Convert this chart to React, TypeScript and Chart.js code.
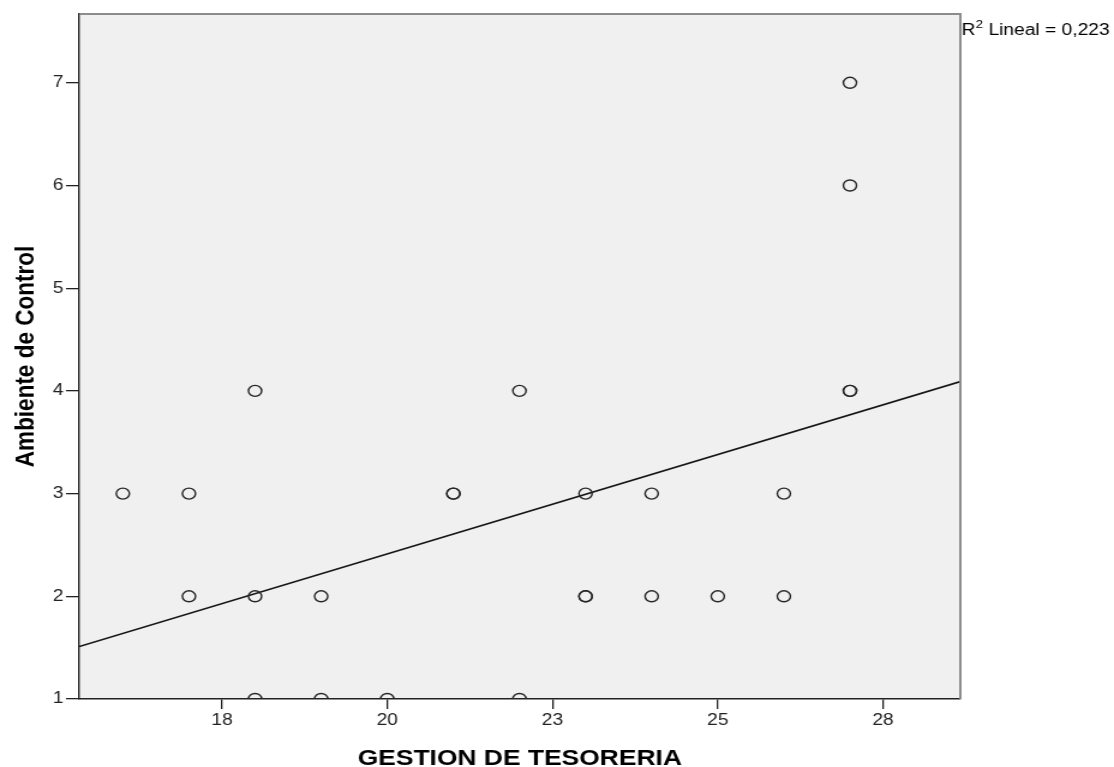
import React, { useEffect, useRef } from "react";
import { Chart, registerables } from "chart.js";

Chart.register(...registerables);

// ---- Data ----
const gestionTesoreria = [16, 17, 17, 18, 18, 18, 19, 19, 20, 21, 21, 22, 22, 23, 23, 23, 24, 24, 25, 26, 26, 27, 27, 27, 27];
const ambienteControl = [3, 3, 2, 4, 2, 1, 2, 1, 1, 3, 3, 4, 1, 3, 2, 2, 3, 2, 2, 3, 2, 7, 6, 4, 4];

const xTickValues = [17.5, 20, 22.5, 25, 27.5];
const xTickLabels = ["18", "20", "23", "25", "28"];
const yTickValues = [1, 2, 3, 4, 5, 6, 7];
const yTickLabels = ["1", "2", "3", "4", "5", "6", "7"];

const xAxisTitle = "GESTION DE TESORERIA";
const yAxisTitle = "Ambiente de Control";
const fitLabel = "Lineal";

const X_MIN = 15.34;
const X_MAX = 28.67;
const Y_MIN = 1;
const Y_MAX = 7.67;

// The reference image is horizontally stretched; draw at a narrower width and stretch with CSS.
const CSS_W = 1114;
const CSS_H = 767;
const CANVAS_W = 928;
const CANVAS_H = 767;

const FONT = "'Liberation Sans', Arial, Helvetica, sans-serif";

function linearFit(xs: number[], ys: number[]) {
  const n = xs.length;
  const mx = xs.reduce((a, b) => a + b, 0) / n;
  const my = ys.reduce((a, b) => a + b, 0) / n;
  let sxy = 0, sxx = 0, syy = 0;
  for (let i = 0; i < n; i++) {
    sxy += (xs[i] - mx) * (ys[i] - my);
    sxx += (xs[i] - mx) ** 2;
    syy += (ys[i] - my) ** 2;
  }
  const slope = sxy / sxx;
  const intercept = my - slope * mx;
  const r2 = (sxy * sxy) / (sxx * syy);
  return { slope, intercept, r2 };
}

const fit = linearFit(gestionTesoreria, ambienteControl);

const spssPlugin = {
  id: "spssDecor",
  beforeDraw(chart: any) {
    const { ctx, chartArea: a, width, height } = chart;
    ctx.save();
    ctx.fillStyle = "#ffffff";
    ctx.fillRect(0, 0, width, height);
    ctx.fillStyle = "#f0f0f0";
    ctx.fillRect(a.left, a.top, a.right - a.left, a.bottom - a.top);
    ctx.restore();
  },
  afterDraw(chart: any) {
    const { ctx, chartArea: a } = chart;
    ctx.save();
    // top & right frame
    ctx.strokeStyle = "#8c8c8c";
    ctx.lineWidth = 2;
    ctx.beginPath();
    ctx.moveTo(a.left, a.top);
    ctx.lineTo(a.right, a.top);
    ctx.lineTo(a.right, a.bottom);
    ctx.stroke();

    // x axis title
    ctx.fillStyle = "#000";
    ctx.font = `bold 22px ${FONT}`;
    ctx.textAlign = "center";
    ctx.textBaseline = "alphabetic";
    ctx.fillText(xAxisTitle, (a.left + a.right) / 2, 765);

    // y axis title
    ctx.save();
    ctx.translate(28, (a.top + a.bottom) / 2);
    ctx.rotate(-Math.PI / 2);
    ctx.font = `bold 22.5px ${FONT}`;
    ctx.textAlign = "center";
    ctx.textBaseline = "alphabetic";
    ctx.fillText(yAxisTitle, 0, 0);
    ctx.restore();

    // R² label
    ctx.textAlign = "left";
    ctx.textBaseline = "alphabetic";
    ctx.fillStyle = "#000";
    let x = a.right + 1;
    const base = 35;
    ctx.font = `16px ${FONT}`;
    ctx.fillText("R", x, base);
    x += ctx.measureText("R").width + 0.3;
    ctx.font = `11px ${FONT}`;
    ctx.fillText("2", x, base - 7.5);
    x += ctx.measureText("2").width;
    ctx.font = `16px ${FONT}`;
    const r2Text = fit.r2.toFixed(3).replace(".", ",");
    ctx.fillText(` ${fitLabel} = ${r2Text}`, x, base);
    ctx.restore();
  },
};

export default function App() {
  const canvasRef = useRef<HTMLCanvasElement | null>(null);

  useEffect(() => {
    const canvas = canvasRef.current;
    if (!canvas) return;

    const points = gestionTesoreria.map((x, i) => ({ x, y: ambienteControl[i] }));
    const lineData = [X_MIN, X_MAX].map((x) => ({ x, y: fit.intercept + fit.slope * x }));

    const chart = new Chart(canvas, {
      type: "scatter",
      data: {
        datasets: [
          {
            label: "points",
            data: points,
            pointRadius: 5.5,
            pointHoverRadius: 5.5,
            pointBorderWidth: 1.4,
            pointBorderColor: "#262626",
            pointBackgroundColor: "rgba(0,0,0,0)",
            showLine: false,
            clip: 0,
          } as any,
          {
            label: "fit",
            data: lineData,
            showLine: true,
            borderColor: "#151515",
            borderWidth: 1.6,
            pointRadius: 0,
            pointHoverRadius: 0,
            clip: 0,
          } as any,
        ],
      },
      options: {
        responsive: false,
        animation: false,
        devicePixelRatio: 1,
        layout: { padding: { top: 14, right: CANVAS_W - 800, left: 0, bottom: 0 } },
        plugins: {
          legend: { display: false },
          tooltip: { enabled: false },
        },
        events: [],
        scales: {
          x: {
            type: "linear",
            min: X_MIN,
            max: X_MAX,
            z: 1,
            afterBuildTicks: (s: any) => {
              s.ticks = xTickValues.map((v) => ({ value: v }));
            },
            afterFit: (s: any) => {
              s.height = 68;
            },
            ticks: {
              autoSkip: false,
              maxRotation: 0,
              padding: 2,
              color: "#222",
              font: { family: FONT, size: 16 },
              callback: (_v: any, i: number) => xTickLabels[i],
            },
            grid: {
              drawOnChartArea: false,
              drawTicks: true,
              tickLength: 10,
              color: "#222",
              lineWidth: 1.3,
            },
            border: { display: true, color: "#222", width: 1.4 },
          },
          y: {
            type: "linear",
            min: Y_MIN,
            max: Y_MAX,
            z: 1,
            afterBuildTicks: (s: any) => {
              s.ticks = yTickValues.map((v) => ({ value: v }));
            },
            afterFit: (s: any) => {
              s.width = 66;
            },
            ticks: {
              autoSkip: false,
              padding: 2,
              color: "#222",
              font: { family: FONT, size: 16 },
              callback: (_v: any, i: number) => yTickLabels[i],
            },
            grid: {
              drawOnChartArea: false,
              drawTicks: true,
              tickLength: 11,
              color: "#222",
              lineWidth: 1.3,
            },
            border: { display: true, color: "#222", width: 1.4 },
          },
        },
      } as any,
      plugins: [spssPlugin],
    });

    return () => {
      chart.destroy();
    };
  }, []);

  return (
    <div style={{ position: "fixed", left: 0, top: 0, width: CSS_W, height: CSS_H, background: "#fff" }}>
      <canvas
        ref={canvasRef}
        width={CANVAS_W}
        height={CANVAS_H}
        style={{ width: `${CSS_W}px`, height: `${CSS_H}px`, display: "block" }}
      />
    </div>
  );
}
